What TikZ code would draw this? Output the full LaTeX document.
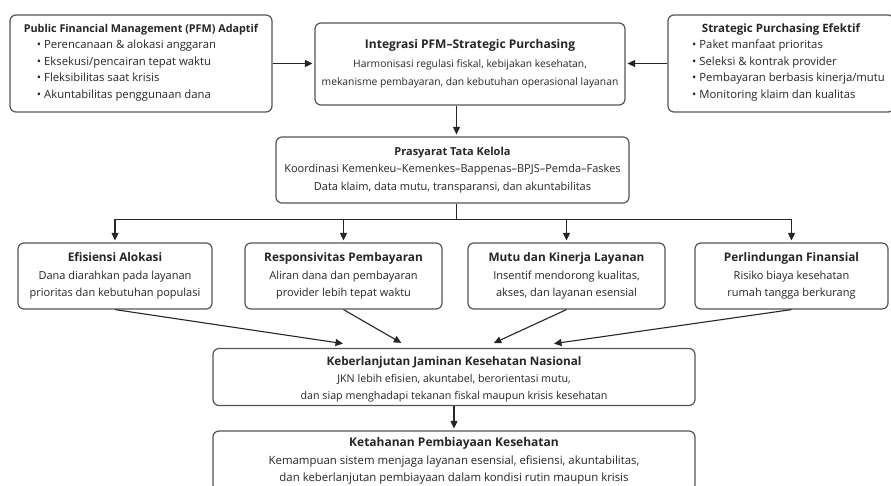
\documentclass[tikz,border=0pt]{standalone}
\usepackage{fontspec}
\setmainfont{Open Sans}
\usetikzlibrary{arrows.meta,calc}
\definecolor{boxline}{HTML}{555555}
\definecolor{ink}{HTML}{262626}
\tikzset{
  box/.style={draw=boxline, line width=1.2pt, rounded corners=6pt, fill=white,
    align=center, inner sep=0pt, text=ink, font=\fontsize{11}{17.5}\selectfont},
  arr/.style={draw=ink, line width=1.1pt, shorten >=2pt, -{Triangle[length=7.5pt,width=7pt]}},
  ln/.style={draw=ink, line width=1.1pt},
}
\newcommand{\ttl}[2]{{\bfseries\fontsize{#1}{17.5}\selectfont #2}}
\begin{document}
\begin{tikzpicture}[x=1pt,y=-1pt]
\useasboundingbox (0,0) rectangle (891,486);
\clip (0,0) rectangle (891,486);
\fill[white] (0,0) rectangle (891,486);

% top row
\node[box, minimum width=262pt, minimum height=97pt, font=\fontsize{11.3}{16.5}\selectfont] (pfm) at (141,63.5)
  {\ttl{10.8}{Public Financial Management (PFM) Adaptif}\\
   \begin{tabular}[t]{@{}l@{}}
   •\hspace{3pt}Perencanaan \& alokasi anggaran\\
   •\hspace{3pt}Eksekusi/pencairan tepat waktu\\
   •\hspace{3pt}Fleksibilitas saat krisis\\
   •\hspace{3pt}Akuntabilitas penggunaan dana
   \end{tabular}\hspace*{29pt}};
\node[box, minimum width=310pt, minimum height=82pt, font=\fontsize{10.3}{18.5}\selectfont] (integ) at (470,64)
  {\ttl{12}{Integrasi PFM–Strategic Purchasing}\\
   Harmonisasi regulasi fiskal, kebijakan kesehatan,\\
   mekanisme pembayaran, dan kebutuhan operasional layanan};
\node[box, minimum width=226pt, minimum height=97pt, font=\fontsize{11.3}{16.5}\selectfont] (sp) at (781,63.5)
  {\ttl{11.5}{Strategic Purchasing Efektif}\\
   \hspace*{15pt}\begin{tabular}[t]{@{}l@{}}
   •\hspace{3pt}Paket manfaat prioritas\\
   •\hspace{3pt}Seleksi \& kontrak provider\\
   •\hspace{3pt}Pembayaran berbasis kinerja/mutu\\
   •\hspace{3pt}Monitoring klaim dan kualitas
   \end{tabular}};

% governance
\node[box, minimum width=353pt, minimum height=66pt] (prasy) at (452.5,170)
  {\ttl{11}{Prasyarat Tata Kelola}\\
   Koordinasi Kemenkeu–Kemenkes–Bappenas–BPJS–Pemda–Faskes\\
   Data klaim, data mutu, transparansi, dan akuntabilitas};

% second row
\node[box, minimum width=194pt, minimum height=66pt] (eff) at (115,276)
  {\ttl{11.8}{Efisiensi Alokasi}\\ Dana diarahkan pada layanan\\ prioritas dan kebutuhan populasi};
\node[box, minimum width=197pt, minimum height=66pt] (resp) at (343.5,276)
  {\ttl{11.8}{Responsivitas Pembayaran}\\ Aliran dana dan pembayaran\\ provider lebih tepat waktu};
\node[box, minimum width=197pt, minimum height=66pt] (mutu) at (566.5,276)
  {\ttl{11.8}{Mutu dan Kinerja Layanan}\\ Insentif mendorong kualitas,\\ akses, dan layanan esensial};
\node[box, minimum width=193pt, minimum height=66pt] (perl) at (791.5,276)
  {\ttl{11.8}{Perlindungan Finansial}\\ Risiko biaya kesehatan\\ rumah tangga berkurang};

% bottom
\node[box, minimum width=482pt, minimum height=57pt, font=\fontsize{10.7}{17}\selectfont] (keb) at (454,377)
  {\rule{0pt}{14.5pt}\ttl{11.7}{Keberlanjutan Jaminan Kesehatan Nasional}\\
   JKN lebih efisien, akuntabel, berorientasi mutu,\\
   dan siap menghadapi tekanan fiskal maupun krisis kesehatan};
\node[box, minimum width=482pt, minimum height=60pt, font=\fontsize{11.4}{17.5}\selectfont] (ket) at (454,461)
  {\ttl{12}{Ketahanan Pembiayaan Kesehatan}\\
   Kemampuan sistem menjaga layanan esensial, efisiensi, akuntabilitas,\\
   dan keberlanjutan pembiayaan dalam kondisi rutin maupun krisis};

% connectors
\draw[arr] (pfm.east) -- (pfm.east -| integ.west);
\draw[arr] (sp.west) -- (sp.west -| integ.east);
\coordinate (pin) at ($(prasy.north)+(4,0)$);
\draw[arr] (pin |- integ.south) -- (pin);

\coordinate (bus) at ($(prasy.south)+(4,16)$);
\draw[ln] ($(prasy.south)+(4,0)$) -- (bus);
\draw[arr] (bus) -| (eff.north);
\draw[arr] (bus) -| (perl.north);
\draw[arr] (bus -| resp.north) -- (resp.north);
\draw[arr] (bus -| mutu.north) -- (mutu.north);

\coordinate (c1) at ($(keb.north)+(-109,-4)$);
\coordinate (c2) at ($(keb.north)+(-51,-4)$);
\coordinate (c3) at ($(keb.north)+(38,-4)$);
\coordinate (c4) at ($(keb.north)+(98,-4)$);
\draw[arr] (eff.south) -- (c1);
\draw[arr] (resp.south) -- (c2);
\draw[arr] (mutu.south) -- (c3);
\draw[arr] (perl.south) -- (c4);

\draw[arr] (keb.south) -- (keb.south |- ket.north);
\end{tikzpicture}
\end{document}
